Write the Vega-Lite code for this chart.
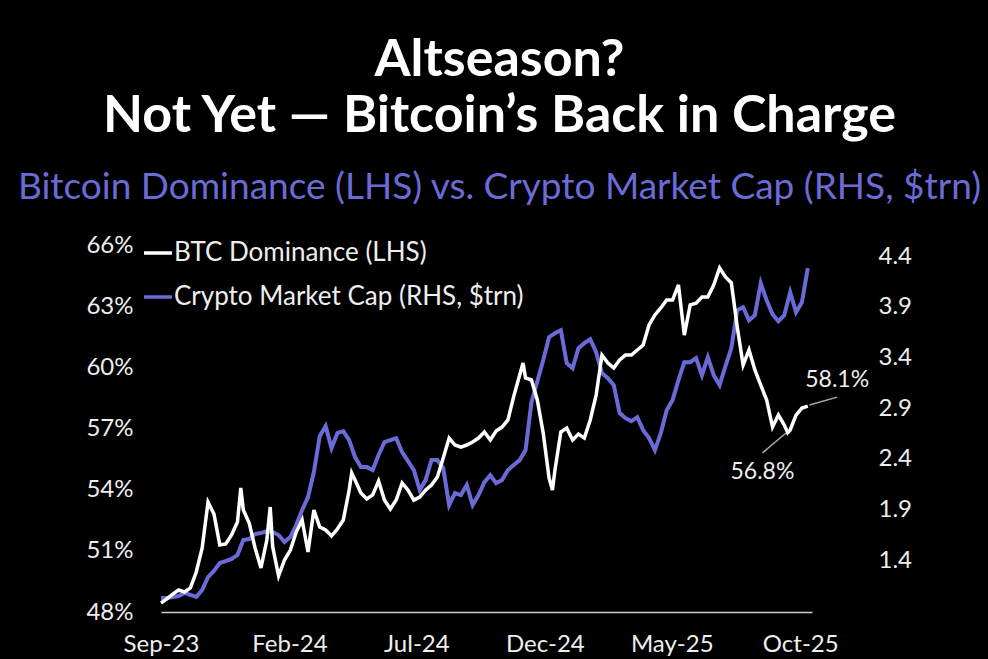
{
  "$schema": "https://vega.github.io/schema/vega-lite/v6.json",
  "autosize": {"type": "none"},
  "padding": {"left": 161, "top": 245, "right": 176, "bottom": 47},
  "width": 651,
  "height": 367,
  "background": "#000000",
  "title": {
    "text": ["Altseason?", "Not Yet — Bitcoin’s Back in Charge"],
    "subtitle": "Bitcoin Dominance (LHS) vs. Crypto Market Cap (RHS, $trn)",
    "anchor": "middle",
    "frame": "group",
    "dx": 13,
    "offset": 26,
    "font": "Lato",
    "fontSize": 52,
    "fontWeight": "bold",
    "lineHeight": 56,
    "color": "#ffffff",
    "subtitleFont": "Lato",
    "subtitleFontSize": 37,
    "subtitleColor": "#6b6bd6",
    "subtitlePadding": 27
  },
  "config": {
    "view": {"stroke": null},
    "axis": {"grid": false, "ticks": false, "labelFont": "Lato", "labelFontSize": 24, "labelColor": "#eeeeee", "title": null, "labelOverlap": false, "labelFlush": false, "labelBound": false},
    "legend": {"labelFont": "Lato", "labelFontSize": 26, "labelColor": "#eeeeee", "labelLimit": 0, "symbolType": "stroke", "symbolSize": 784, "symbolStrokeWidth": 3.5, "padding": 0, "rowPadding": 15, "labelOffset": 0}
  },
  "datasets": {
    "btc": [
      {"date": "2023-09-01", "btc": 48.44}, {"date": "2023-09-08", "btc": 48.64}, {"date": "2023-09-15", "btc": 48.88}, {"date": "2023-09-22", "btc": 49.08}, {"date": "2023-09-29", "btc": 48.98},
      {"date": "2023-10-06", "btc": 49.18}, {"date": "2023-10-13", "btc": 49.96}, {"date": "2023-10-20", "btc": 51.14}, {"date": "2023-10-27", "btc": 53.39}, {"date": "2023-11-03", "btc": 52.81},
      {"date": "2023-11-10", "btc": 51.29}, {"date": "2023-11-17", "btc": 51.34}, {"date": "2023-11-24", "btc": 51.78}, {"date": "2023-12-01", "btc": 52.41}, {"date": "2023-12-05", "btc": 54.08},
      {"date": "2023-12-08", "btc": 53.0}, {"date": "2023-12-15", "btc": 52.36}, {"date": "2023-12-22", "btc": 51.14}, {"date": "2023-12-29", "btc": 50.16}, {"date": "2024-01-05", "btc": 51.53},
      {"date": "2024-01-09", "btc": 53.15}, {"date": "2024-01-12", "btc": 51.19}, {"date": "2024-01-19", "btc": 49.77}, {"date": "2024-01-26", "btc": 50.55}, {"date": "2024-02-02", "btc": 51.04},
      {"date": "2024-02-09", "btc": 51.92}, {"date": "2024-02-16", "btc": 52.51}, {"date": "2024-02-23", "btc": 50.94}, {"date": "2024-03-01", "btc": 53.0}, {"date": "2024-03-08", "btc": 52.17},
      {"date": "2024-03-15", "btc": 52.02}, {"date": "2024-03-22", "btc": 51.73}, {"date": "2024-03-29", "btc": 52.07}, {"date": "2024-04-05", "btc": 52.51}, {"date": "2024-04-12", "btc": 53.98},
      {"date": "2024-04-15", "btc": 54.82}, {"date": "2024-04-19", "btc": 54.47}, {"date": "2024-04-26", "btc": 53.84}, {"date": "2024-05-03", "btc": 53.54}, {"date": "2024-05-10", "btc": 53.74},
      {"date": "2024-05-17", "btc": 54.42}, {"date": "2024-05-24", "btc": 53.49}, {"date": "2024-05-31", "btc": 53.05}, {"date": "2024-06-07", "btc": 53.49}, {"date": "2024-06-14", "btc": 54.33},
      {"date": "2024-06-21", "btc": 53.98}, {"date": "2024-06-28", "btc": 53.49}, {"date": "2024-07-05", "btc": 53.64}, {"date": "2024-07-12", "btc": 53.98}, {"date": "2024-07-19", "btc": 54.23},
      {"date": "2024-07-26", "btc": 54.62}, {"date": "2024-08-02", "btc": 55.55}, {"date": "2024-08-09", "btc": 56.53}, {"date": "2024-08-16", "btc": 56.19}, {"date": "2024-08-23", "btc": 56.09},
      {"date": "2024-08-30", "btc": 56.19}, {"date": "2024-09-06", "btc": 56.34}, {"date": "2024-09-13", "btc": 56.53}, {"date": "2024-09-20", "btc": 56.83}, {"date": "2024-09-27", "btc": 56.44},
      {"date": "2024-10-04", "btc": 56.88}, {"date": "2024-10-11", "btc": 57.07}, {"date": "2024-10-18", "btc": 57.42}, {"date": "2024-10-25", "btc": 58.59}, {"date": "2024-11-01", "btc": 59.62},
      {"date": "2024-11-05", "btc": 60.21}, {"date": "2024-11-08", "btc": 59.48}, {"date": "2024-11-15", "btc": 59.38}, {"date": "2024-11-22", "btc": 58.4}, {"date": "2024-11-29", "btc": 56.78},
      {"date": "2024-12-06", "btc": 54.57}, {"date": "2024-12-10", "btc": 53.98}, {"date": "2024-12-13", "btc": 54.96}, {"date": "2024-12-20", "btc": 56.83}, {"date": "2024-12-27", "btc": 57.02},
      {"date": "2025-01-03", "btc": 56.44}, {"date": "2025-01-10", "btc": 56.73}, {"date": "2025-01-17", "btc": 56.53}, {"date": "2025-01-24", "btc": 57.42}, {"date": "2025-01-31", "btc": 58.64},
      {"date": "2025-02-07", "btc": 60.6}, {"date": "2025-02-14", "btc": 60.21}, {"date": "2025-02-21", "btc": 59.97}, {"date": "2025-02-28", "btc": 60.36}, {"date": "2025-03-07", "btc": 60.6},
      {"date": "2025-03-14", "btc": 60.6}, {"date": "2025-03-21", "btc": 60.85}, {"date": "2025-03-28", "btc": 61.09}, {"date": "2025-04-04", "btc": 62.08}, {"date": "2025-04-11", "btc": 62.57},
      {"date": "2025-04-18", "btc": 62.91}, {"date": "2025-04-25", "btc": 63.3}, {"date": "2025-05-02", "btc": 63.3}, {"date": "2025-05-09", "btc": 64.04}, {"date": "2025-05-16", "btc": 61.58},
      {"date": "2025-05-23", "btc": 63.06}, {"date": "2025-05-30", "btc": 63.15}, {"date": "2025-06-06", "btc": 63.45}, {"date": "2025-06-13", "btc": 63.45}, {"date": "2025-06-20", "btc": 64.04},
      {"date": "2025-06-27", "btc": 64.87}, {"date": "2025-07-04", "btc": 64.43}, {"date": "2025-07-11", "btc": 64.14}, {"date": "2025-07-18", "btc": 61.98}, {"date": "2025-07-25", "btc": 60.11},
      {"date": "2025-08-01", "btc": 60.85}, {"date": "2025-08-08", "btc": 59.87}, {"date": "2025-08-15", "btc": 59.13}, {"date": "2025-08-22", "btc": 58.4}, {"date": "2025-08-29", "btc": 57.07},
      {"date": "2025-09-05", "btc": 57.66}, {"date": "2025-09-12", "btc": 57.17}, {"date": "2025-09-16", "btc": 56.8}, {"date": "2025-09-19", "btc": 56.93}, {"date": "2025-09-26", "btc": 57.66},
      {"date": "2025-10-03", "btc": 58.0}, {"date": "2025-10-10", "btc": 58.1}
    ],
    "mcap": [
      {"date": "2023-09-01", "mcap": 1.025}, {"date": "2023-09-08", "mcap": 1.025}, {"date": "2023-09-15", "mcap": 1.035}, {"date": "2023-09-22", "mcap": 1.045}, {"date": "2023-09-29", "mcap": 1.075},
      {"date": "2023-10-06", "mcap": 1.055}, {"date": "2023-10-13", "mcap": 1.035}, {"date": "2023-10-20", "mcap": 1.104}, {"date": "2023-10-27", "mcap": 1.232}, {"date": "2023-11-03", "mcap": 1.292},
      {"date": "2023-11-10", "mcap": 1.37}, {"date": "2023-11-17", "mcap": 1.39}, {"date": "2023-11-24", "mcap": 1.41}, {"date": "2023-12-01", "mcap": 1.449}, {"date": "2023-12-08", "mcap": 1.597},
      {"date": "2023-12-15", "mcap": 1.607}, {"date": "2023-12-22", "mcap": 1.656}, {"date": "2023-12-29", "mcap": 1.666}, {"date": "2024-01-05", "mcap": 1.686}, {"date": "2024-01-12", "mcap": 1.676},
      {"date": "2024-01-19", "mcap": 1.647}, {"date": "2024-01-26", "mcap": 1.578}, {"date": "2024-02-02", "mcap": 1.627}, {"date": "2024-02-09", "mcap": 1.745}, {"date": "2024-02-16", "mcap": 1.893},
      {"date": "2024-02-23", "mcap": 2.021}, {"date": "2024-03-01", "mcap": 2.268}, {"date": "2024-03-08", "mcap": 2.623}, {"date": "2024-03-15", "mcap": 2.721}, {"date": "2024-03-22", "mcap": 2.505},
      {"date": "2024-03-29", "mcap": 2.652}, {"date": "2024-04-05", "mcap": 2.672}, {"date": "2024-04-12", "mcap": 2.583}, {"date": "2024-04-19", "mcap": 2.416}, {"date": "2024-04-26", "mcap": 2.317},
      {"date": "2024-05-03", "mcap": 2.317}, {"date": "2024-05-10", "mcap": 2.288}, {"date": "2024-05-17", "mcap": 2.436}, {"date": "2024-05-24", "mcap": 2.564}, {"date": "2024-05-31", "mcap": 2.583},
      {"date": "2024-06-07", "mcap": 2.603}, {"date": "2024-06-14", "mcap": 2.465}, {"date": "2024-06-21", "mcap": 2.376}, {"date": "2024-06-28", "mcap": 2.288}, {"date": "2024-07-05", "mcap": 2.09},
      {"date": "2024-07-12", "mcap": 2.189}, {"date": "2024-07-19", "mcap": 2.386}, {"date": "2024-07-26", "mcap": 2.386}, {"date": "2024-08-02", "mcap": 2.307}, {"date": "2024-08-09", "mcap": 1.942},
      {"date": "2024-08-16", "mcap": 2.061}, {"date": "2024-08-23", "mcap": 2.041}, {"date": "2024-08-30", "mcap": 2.14}, {"date": "2024-09-06", "mcap": 1.942}, {"date": "2024-09-13", "mcap": 2.041},
      {"date": "2024-09-20", "mcap": 2.169}, {"date": "2024-09-27", "mcap": 2.238}, {"date": "2024-10-04", "mcap": 2.159}, {"date": "2024-10-11", "mcap": 2.189}, {"date": "2024-10-18", "mcap": 2.288},
      {"date": "2024-10-25", "mcap": 2.337}, {"date": "2024-11-01", "mcap": 2.386}, {"date": "2024-11-08", "mcap": 2.485}, {"date": "2024-11-15", "mcap": 2.958}, {"date": "2024-11-22", "mcap": 3.165},
      {"date": "2024-11-29", "mcap": 3.372}, {"date": "2024-12-06", "mcap": 3.599}, {"date": "2024-12-13", "mcap": 3.639}, {"date": "2024-12-20", "mcap": 3.668}, {"date": "2024-12-27", "mcap": 3.343},
      {"date": "2025-01-03", "mcap": 3.293}, {"date": "2025-01-10", "mcap": 3.491}, {"date": "2025-01-17", "mcap": 3.54}, {"date": "2025-01-24", "mcap": 3.579}, {"date": "2025-01-31", "mcap": 3.451},
      {"date": "2025-02-07", "mcap": 3.244}, {"date": "2025-02-14", "mcap": 3.195}, {"date": "2025-02-21", "mcap": 3.126}, {"date": "2025-02-28", "mcap": 2.85}, {"date": "2025-03-07", "mcap": 2.8},
      {"date": "2025-03-14", "mcap": 2.771}, {"date": "2025-03-21", "mcap": 2.81}, {"date": "2025-03-28", "mcap": 2.682}, {"date": "2025-04-04", "mcap": 2.603}, {"date": "2025-04-11", "mcap": 2.485},
      {"date": "2025-04-18", "mcap": 2.652}, {"date": "2025-04-25", "mcap": 2.879}, {"date": "2025-05-02", "mcap": 2.978}, {"date": "2025-05-09", "mcap": 3.175}, {"date": "2025-05-16", "mcap": 3.353},
      {"date": "2025-05-23", "mcap": 3.353}, {"date": "2025-05-30", "mcap": 3.392}, {"date": "2025-06-06", "mcap": 3.224}, {"date": "2025-06-13", "mcap": 3.402}, {"date": "2025-06-20", "mcap": 3.224},
      {"date": "2025-06-27", "mcap": 3.126}, {"date": "2025-07-04", "mcap": 3.313}, {"date": "2025-07-11", "mcap": 3.491}, {"date": "2025-07-18", "mcap": 3.865}, {"date": "2025-07-25", "mcap": 3.895},
      {"date": "2025-08-01", "mcap": 3.767}, {"date": "2025-08-08", "mcap": 3.816}, {"date": "2025-08-15", "mcap": 4.132}, {"date": "2025-08-22", "mcap": 3.964}, {"date": "2025-08-29", "mcap": 3.826},
      {"date": "2025-09-05", "mcap": 3.757}, {"date": "2025-09-12", "mcap": 3.816}, {"date": "2025-09-19", "mcap": 4.043}, {"date": "2025-09-26", "mcap": 3.846}, {"date": "2025-10-03", "mcap": 3.944},
      {"date": "2025-10-10", "mcap": 4.28}
    ],
    "leaders": [
      {"g": "end", "date": "2025-10-12", "v": 58.15}, {"g": "end", "date": "2025-11-14", "v": 58.54},
      {"g": "low", "date": "2025-09-14", "v": 56.78}, {"g": "low", "date": "2025-08-17", "v": 55.8}
    ],
    "notes": [
      {"date": "2025-11-14", "v": 59.38, "label": "58.1%"},
      {"date": "2025-08-17", "v": 54.87, "label": "56.8%"}
    ]
  },
  "resolve": {"scale": {"y": "independent"}},
  "layer": [
    {
      "data": {"name": "mcap"},
      "mark": {"type": "line", "strokeWidth": 4, "interpolate": "linear"},
      "encoding": {
        "x": {"field": "date", "type": "temporal", "scale": {"type": "utc", "domain": ["2023-09-01", "2025-10-15"]},
              "axis": {"format": "%b-%y", "domainColor": "#d0d0d0", "domainWidth": 1.5, "labelPadding": 20,
                       "values": [{"year": 2023, "month": "sep", "date": 1, "utc": true}, {"year": 2024, "month": "feb", "date": 1, "utc": true}, {"year": 2024, "month": "jul", "date": 1, "utc": true}, {"year": 2024, "month": "dec", "date": 1, "utc": true}, {"year": 2025, "month": "may", "date": 1, "utc": true}, {"year": 2025, "month": "oct", "date": 1, "utc": true}]}},
        "y": {"field": "mcap", "type": "quantitative", "scale": {"domain": [0.887, 4.509], "nice": false, "zero": false},
              "axis": {"orient": "right", "domain": false, "values": [1.4, 1.9, 2.4, 2.9, 3.4, 3.9, 4.4], "format": ".1f", "labelPadding": 66}},
        "color": {"datum": "Crypto Market Cap (RHS, $trn)", "type": "nominal",
                  "scale": {"domain": ["BTC Dominance (LHS)", "Crypto Market Cap (RHS, $trn)"], "range": ["#ffffff", "#6b6bd8"]},
                  "legend": {"orient": "none", "legendX": -19, "legendY": -8, "title": null}}
      }
    },
    {
      "layer": [
        {
          "data": {"name": "btc"},
          "mark": {"type": "line", "strokeWidth": 3.5},
          "encoding": {
            "x": {"field": "date", "type": "temporal"},
            "y": {"field": "btc", "type": "quantitative", "scale": {"domain": [48, 66], "nice": false, "zero": false},
                  "axis": {"orient": "left", "domain": false, "values": [48, 51, 54, 57, 60, 63, 66], "labelExpr": "datum.value + '%'", "labelPadding": 28}},
            "color": {"datum": "BTC Dominance (LHS)", "type": "nominal"}
          }
        },
        {
          "data": {"name": "leaders"},
          "mark": {"type": "line", "stroke": "#a8a8a8", "strokeWidth": 1.5},
          "encoding": {
            "x": {"field": "date", "type": "temporal"},
            "y": {"field": "v", "type": "quantitative"},
            "detail": {"field": "g"}
          }
        },
        {
          "data": {"name": "notes"},
          "mark": {"type": "text", "font": "Lato", "fontSize": 23, "color": "#eeeeee", "align": "center", "baseline": "middle"},
          "encoding": {
            "x": {"field": "date", "type": "temporal"},
            "y": {"field": "v", "type": "quantitative"},
            "text": {"field": "label"}
          }
        }
      ]
    }
  ]
}
